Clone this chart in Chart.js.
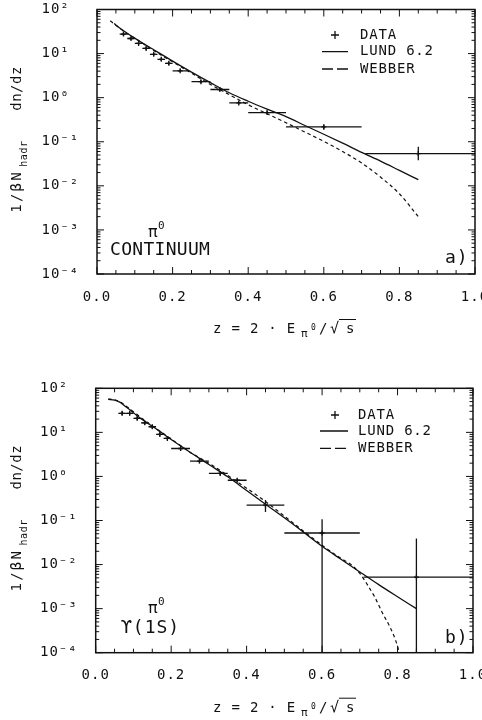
<!DOCTYPE html>
<html>
<head>
<meta charset="utf-8">
<script src="https://cdn.jsdelivr.net/npm/chart.js@4.4.1/dist/chart.umd.min.js"></script>
<style>
  html, body { margin: 0; padding: 0; background: #fff; overflow: hidden; }
  canvas { display: block; }
</style>
</head>
<body>
<canvas id="chartA" width="482" height="360"></canvas>
<canvas id="chartB" width="482" height="360"></canvas>
<script>
// ---- data ----
// axis ticks
const xTickValues = [0, 0.2, 0.4, 0.6, 0.8, 1.0];
const yTickExps = [-4, -3, -2, -1, 0, 1, 2];

// a) pi0, continuum
const contZ     = [0.07, 0.09, 0.11, 0.13, 0.15, 0.17, 0.19, 0.22, 0.275, 0.325, 0.375, 0.45, 0.60, 0.85];
const contBinLo = [0.06, 0.08, 0.10, 0.12, 0.14, 0.16, 0.18, 0.20, 0.25, 0.30, 0.35, 0.40, 0.50, 0.71];
const contBinHi = [0.08, 0.10, 0.12, 0.14, 0.16, 0.18, 0.20, 0.24, 0.30, 0.35, 0.40, 0.50, 0.70, 1.00];
const contVal   = [27.7, 22, 17, 13.1, 9.6, 7.4, 6.0, 4.06, 2.31, 1.53, 0.76, 0.46, 0.217, 0.054];
const contErrLo = [25.5, 20.3, 15.7, 12.1, 8.9, 6.8, 5.5, 3.75, 2.13, 1.41, 0.70, 0.42, 0.19, 0.038];
const contErrHi = [30, 23.8, 18.4, 14.2, 10.4, 8.0, 6.5, 4.4, 2.5, 1.66, 0.82, 0.50, 0.245, 0.077];

const lundContZ   = [0.045, 0.06, 0.08, 0.10, 0.125, 0.15, 0.175, 0.20, 0.25, 0.30, 0.35, 0.40, 0.45, 0.50, 0.55, 0.60, 0.65, 0.70, 0.75, 0.80, 0.85];
const lundContVal = [47.9, 38, 28.8, 22.4, 16.4, 12.2, 9.1, 6.76, 3.8, 2.19, 1.29, 0.83, 0.55, 0.372, 0.234, 0.148, 0.093, 0.0575, 0.0363, 0.0224, 0.0138];

const webberContZ   = [0.035, 0.05, 0.075, 0.10, 0.125, 0.15, 0.20, 0.25, 0.30, 0.35, 0.40, 0.45, 0.50, 0.55, 0.60, 0.65, 0.70, 0.75, 0.80, 0.85];
const webberContVal = [55.6, 43.7, 30.2, 22.4, 16.2, 11.7, 6.5, 3.6, 2.0, 1.17, 0.69, 0.43, 0.27, 0.166, 0.102, 0.060, 0.033, 0.0158, 0.0066, 0.0020];

// b) pi0, Upsilon(1S)
const upsZ     = [0.07, 0.09, 0.11, 0.13, 0.15, 0.17, 0.19, 0.225, 0.275, 0.33, 0.375, 0.45, 0.60, 0.85];
const upsBinLo = [0.06, 0.08, 0.10, 0.12, 0.14, 0.16, 0.18, 0.20, 0.25, 0.30, 0.35, 0.40, 0.50, 0.71];
const upsBinHi = [0.08, 0.10, 0.12, 0.14, 0.16, 0.18, 0.20, 0.25, 0.30, 0.35, 0.40, 0.50, 0.70, 1.00];
const upsVal   = [27, 27, 20.8, 16.5, 13.4, 9.0, 7.3, 4.3, 2.23, 1.17, 0.82, 0.223, 0.052, 0.0052];
const upsErrLo = [24.5, 24.5, 18.8, 15, 12.2, 8.2, 6.6, 3.9, 2.0, 1.05, 0.74, 0.155, 0.00001, 0.00001];
const upsErrHi = [30, 30, 23, 18.2, 14.8, 9.9, 8.0, 4.75, 2.47, 1.3, 0.9, 0.29, 0.107, 0.039];

const lundUpsZ   = [0.033, 0.05, 0.065, 0.08, 0.10, 0.125, 0.15, 0.175, 0.20, 0.225, 0.25, 0.275, 0.30, 0.35, 0.40, 0.45, 0.50, 0.55, 0.60, 0.65, 0.70, 0.75, 0.80, 0.85];
const lundUpsVal = [56, 54, 48, 38, 28, 19, 13.8, 9.8, 6.9, 4.95, 3.55, 2.57, 1.86, 0.98, 0.48, 0.234, 0.115, 0.055, 0.026, 0.0132, 0.0068, 0.0035, 0.00186, 0.001];

const webberUpsZ   = [0.033, 0.05, 0.065, 0.08, 0.10, 0.125, 0.15, 0.20, 0.25, 0.30, 0.35, 0.40, 0.45, 0.50, 0.55, 0.60, 0.65, 0.68, 0.70, 0.72, 0.74, 0.76, 0.78, 0.795, 0.805, 0.812];
const webberUpsVal = [57, 55, 49, 40, 29.5, 20, 14.1, 7.1, 3.55, 2.0, 1.05, 0.54, 0.27, 0.126, 0.058, 0.0275, 0.0138, 0.0095, 0.0063, 0.0035, 0.0018, 0.0008, 0.00038, 0.00019, 0.0001, 0.00006];

// ---- look ----
const FONT = '"DejaVu Sans Mono", "Liberation Mono", monospace';
const INK = '#111';
Chart.defaults.font.family = FONT;
Chart.defaults.font.size = 14;
Chart.defaults.color = INK;

const SUP = { '-': '⁻', '0': '⁰', '1': '¹', '2': '²', '3': '³', '4': '⁴' };
const yLabel = v => '10' + String(Math.round(Math.log10(v))).split('').map(c => SUP[c]).join('');

function drawText(ctx, txt, x, y, size, spacing) {
  ctx.font = size + 'px ' + FONT;
  ctx.letterSpacing = (spacing === undefined ? 1 : spacing) + 'px';
  ctx.fillText(txt, x, y);
}

function drawYTitle(ctx, cy) {
  ctx.save();
  ctx.translate(21, cy);
  ctx.rotate(-Math.PI / 2);
  ctx.textAlign = 'left';
  ctx.textBaseline = 'alphabetic';
  drawText(ctx, '1/βN', -71, 0, 14, 2.2);
  drawText(ctx, 'hadr', -25, 6, 10, 0.6);
  drawText(ctx, 'dn/dz', 31, 0, 14, 0.5);
  ctx.restore();
}

function drawXTitle(ctx, base) {
  ctx.textAlign = 'left';
  ctx.textBaseline = 'alphabetic';
  drawText(ctx, 'z = 2 · E', 213, base, 14, 0.8);
  drawText(ctx, 'π', 301, base + 4, 11, 0);
  drawText(ctx, '0', 311, base - 3, 8, 0);
  drawText(ctx, '/', 319, base, 14, 0);
  drawText(ctx, '√', 330, base, 15, 0);
  drawText(ctx, 's', 346, base, 14, 0);
  ctx.beginPath();
  ctx.lineWidth = 1;
  ctx.moveTo(339, base - 13.5);
  ctx.lineTo(356, base - 13.5);
  ctx.stroke();
}

// error bars, frame, inward ticks, legend and notes
const panelPlugin = {
  id: 'panel',
  beforeDraw(chart) {
    chart.ctx.letterSpacing = '1px';
  },
  afterDatasetsDraw(chart, args, o) {
    const { ctx, chartArea: a, scales: { x, y } } = chart;
    ctx.save();
    ctx.beginPath();
    ctx.rect(a.left, a.top, a.width, a.height);
    ctx.clip();
    ctx.strokeStyle = INK;
    ctx.lineWidth = 1.3;
    o.z.forEach((z, i) => {
      const py = y.getPixelForValue(o.val[i]);
      const px = x.getPixelForValue(z);
      ctx.beginPath();
      ctx.moveTo(x.getPixelForValue(o.lo[i]), py);
      ctx.lineTo(x.getPixelForValue(o.hi[i]), py);
      ctx.moveTo(px, y.getPixelForValue(o.errLo[i]));
      ctx.lineTo(px, y.getPixelForValue(o.errHi[i]));
      ctx.stroke();
    });
    ctx.restore();
  },
  afterDraw(chart, args, o) {
    const { ctx, chartArea: a, scales: { x, y } } = chart;
    ctx.save();
    ctx.strokeStyle = INK;
    ctx.fillStyle = INK;
    ctx.lineWidth = 1.5;
    ctx.strokeRect(a.left, a.top, a.width, a.height);

    ctx.lineWidth = 1;
    ctx.beginPath();
    for (let k = 0; k <= 20; k++) {
      const px = x.getPixelForValue(k * 0.05);
      const len = k % 4 === 0 ? 7 : 4;
      ctx.moveTo(px, a.bottom); ctx.lineTo(px, a.bottom - len);
      ctx.moveTo(px, a.top); ctx.lineTo(px, a.top + len);
    }
    for (let d = -4; d <= 2; d++) {
      for (let m = 1; m <= 9; m++) {
        if (d === 2 && m > 1) break;
        const py = y.getPixelForValue(m * Math.pow(10, d));
        const len = m === 1 ? 7 : 3.5;
        ctx.moveTo(a.left, py); ctx.lineTo(a.left + len, py);
        ctx.moveTo(a.right, py); ctx.lineTo(a.right - len, py);
      }
    }
    ctx.stroke();

    // legend
    const L = o.legend;
    ctx.lineWidth = 1.3;
    ctx.beginPath();
    ctx.moveTo(L.sym - 4, L.rows[0]); ctx.lineTo(L.sym + 4, L.rows[0]);
    ctx.moveTo(L.sym, L.rows[0] - 4); ctx.lineTo(L.sym, L.rows[0] + 4);
    ctx.moveTo(L.line0, L.rows[1]); ctx.lineTo(L.line1, L.rows[1]);
    ctx.stroke();
    ctx.setLineDash([11, 4]);
    ctx.beginPath();
    ctx.moveTo(L.line0, L.rows[2]); ctx.lineTo(L.line1, L.rows[2]);
    ctx.stroke();
    ctx.setLineDash([]);
    ctx.textAlign = 'left';
    ctx.textBaseline = 'middle';
    ['DATA', 'LUND 6.2', 'WEBBER'].forEach((t, i) => drawText(ctx, t, L.text, L.rows[i], 14, 0.8));

    // notes inside the frame
    ctx.textBaseline = 'alphabetic';
    o.notes.forEach(n => drawText(ctx, n.text, n.x, n.y, n.size, n.spacing));

    drawYTitle(ctx, (a.top + a.bottom) / 2);
    drawXTitle(ctx, o.xTitleBase);
    ctx.restore();
  }
};

function buildConfig(p) {
  const pts = (xs, ys) => xs.map((v, i) => ({ x: v, y: ys[i] }));
  return {
    type: 'scatter',
    data: {
      datasets: [
        {
          label: 'DATA',
          data: pts(p.z, p.val),
          pointStyle: 'cross',
          pointRadius: 2.5,
          borderColor: INK,
          borderWidth: 1.3,
          showLine: false
        },
        {
          label: 'LUND 6.2',
          data: pts(p.lundZ, p.lundVal),
          showLine: true,
          borderColor: INK,
          borderWidth: 1.3,
          pointRadius: 0,
          cubicInterpolationMode: 'monotone'
        },
        {
          label: 'WEBBER',
          data: pts(p.webZ, p.webVal),
          showLine: true,
          borderColor: INK,
          borderWidth: 1.2,
          borderDash: [3.5, 3],
          pointRadius: 0,
          cubicInterpolationMode: 'monotone'
        }
      ]
    },
    options: {
      responsive: false,
      animation: false,
      devicePixelRatio: 1,
      layout: { padding: p.padding },
      plugins: {
        legend: { display: false },
        tooltip: { enabled: false },
        panel: {
          z: p.z, lo: p.lo, hi: p.hi, val: p.val, errLo: p.errLo, errHi: p.errHi,
          legend: p.legend, notes: p.notes, xTitleBase: p.xTitleBase
        }
      },
      scales: {
        x: {
          type: 'linear',
          min: 0,
          max: 1,
          grid: { display: false, drawTicks: false },
          border: { display: false },
          afterBuildTicks: s => { s.ticks = xTickValues.map(v => ({ value: v })); },
          afterFit: s => { s.height = p.xHeight; s.paddingLeft = 0; s.paddingRight = 0; },
          ticks: { padding: p.xPad, maxRotation: 0, callback: v => v.toFixed(1) }
        },
        y: {
          type: 'logarithmic',
          min: 1e-4,
          max: 1e2,
          grid: { display: false, drawTicks: false },
          border: { display: false },
          afterBuildTicks: s => { s.ticks = yTickExps.map(e => ({ value: Math.pow(10, e) })); },
          afterFit: s => { s.width = p.yWidth; s.paddingTop = 0; s.paddingBottom = 0; },
          ticks: { crossAlign: 'far', callback: v => yLabel(v) }
        }
      }
    },
    plugins: [panelPlugin]
  };
}

new Chart(document.getElementById('chartA'), buildConfig({
  z: contZ, lo: contBinLo, hi: contBinHi, val: contVal, errLo: contErrLo, errHi: contErrHi,
  lundZ: lundContZ, lundVal: lundContVal, webZ: webberContZ, webVal: webberContVal,
  padding: { left: 41.5, right: 7, top: 9.5, bottom: 0 },
  yWidth: 55.5, xHeight: 86, xPad: 14.5, xTitleBase: 333,
  legend: { sym: 335, line0: 322, line1: 348, text: 360, rows: [35, 51.7, 69] },
  notes: [
    { text: 'π', x: 148, y: 237, size: 16, spacing: 0 },
    { text: '0', x: 158, y: 229, size: 11, spacing: 0 },
    { text: 'CONTINUUM', x: 110, y: 254.5, size: 18, spacing: 0.3 },
    { text: 'a)', x: 445, y: 263, size: 18, spacing: 1 }
  ]
}));

new Chart(document.getElementById('chartB'), buildConfig({
  z: upsZ, lo: upsBinLo, hi: upsBinHi, val: upsVal, errLo: upsErrLo, errHi: upsErrHi,
  lundZ: lundUpsZ, lundVal: lundUpsVal, webZ: webberUpsZ, webVal: webberUpsVal,
  padding: { left: 40, right: 9, top: 28.3, bottom: 0 },
  yWidth: 55.7, xHeight: 67.3, xPad: 14, xTitleBase: 351.7,
  legend: { sym: 335, line0: 320, line1: 348, text: 358, rows: [55, 71, 88.3] },
  notes: [
    { text: 'π', x: 148, y: 253, size: 16, spacing: 0 },
    { text: '0', x: 158, y: 245, size: 11, spacing: 0 },
    { text: 'ϒ(1S)', x: 121, y: 273, size: 18, spacing: 1 },
    { text: 'b)', x: 445, y: 283, size: 18, spacing: 1 }
  ]
}));
</script>
</body>
</html>
